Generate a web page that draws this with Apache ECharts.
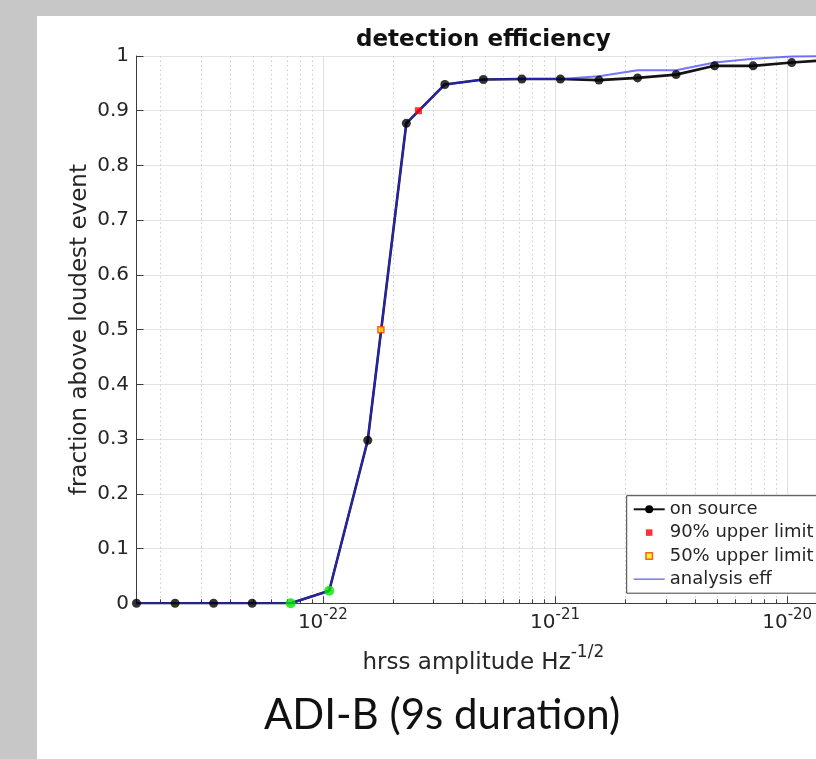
<!DOCTYPE html>
<html>
<head>
<meta charset="utf-8">
<script src="https://cdn.jsdelivr.net/npm/echarts@6/dist/echarts.min.js"></script>
<style>
html,body{margin:0;padding:0;background:#c7c7c7;}
#chart{width:816px;height:759px;}
</style>
</head>
<body>
<div id="chart"></div>
<script>
// ---- data ----
const hrss = [1.575e-23, 2.309e-23, 3.383e-23, 4.959e-23, 7.267e-23, 1.065e-22, 1.561e-22,
              2.288e-22, 3.353e-22, 4.913e-22, 7.200e-22, 1.055e-21, 1.546e-21, 2.267e-21,
              3.322e-21, 4.868e-21, 7.134e-21, 1.046e-20, 1.532e-20];
const onSource = [0, 0, 0, 0, 0, 0.023, 0.298, 0.877, 0.948, 0.957, 0.958, 0.958, 0.956,
                  0.960, 0.966, 0.982, 0.982, 0.988, 0.993];
const analysisEff = [0, 0, 0, 0, 0, 0.023, 0.298, 0.877, 0.948, 0.957, 0.958, 0.958, 0.963,
                     0.974, 0.974, 0.988, 0.995, 0.999, 1.0];
const greenIdx = [4, 5];
const upper90 = [2.58e-22, 0.9];
const upper50 = [1.778e-22, 0.5];
const decadeExps = [-22, -21, -20];
const minorMultipliers = [2, 3, 4, 5, 6, 7, 8, 9];
const minorDecades = [-23, -22, -21, -20];
const legendNames = ['on source', '90% upper limit', '50% upper limit', 'analysis eff'];
const titleText = 'detection efficiency';
const xName = 'hrss amplitude Hz';
const xNameSup = '-1/2';
const yName = 'fraction above loudest event';
const caption = 'ADI-B (9s duration)';

// ---- build ----
const lg = v => Math.log10(v);
const xMin = lg(hrss[0]);
const xMax = lg(hrss[hrss.length - 1]);
const minorTicks = [];
minorDecades.forEach(d => minorMultipliers.forEach(m => {
  const v = Math.log10(m) + d;
  if (v > xMin && v < xMax) minorTicks.push(v);
}));
const onSourceData = hrss.map((h, i) => [lg(h), onSource[i]]);
const effData = hrss.map((h, i) => [lg(h), analysisEff[i]]);
const dotData = hrss.map((h, i) => greenIdx.indexOf(i) >= 0
  ? {value: [lg(h), onSource[i]], itemStyle: {color: '#00e600'}, symbolSize: 10}
  : {value: [lg(h), onSource[i]]});

const FONT = 'DejaVu Sans';
const AX = '#3c3c3c';
const TXT = '#262626';
const sqIcon = 'path://M0,0L0,0M31,10L31,10M12.25,1.75H18.75V8.25H12.25Z';
const lineIcon = 'path://M0,0L0,0M31,10L31,10M0,4.2H31V5.8H0Z';

const chart = echarts.init(document.getElementById('chart'), null, {renderer: 'canvas'});
chart.setOption({
  animation: false,
  backgroundColor: '#c7c7c7',
  graphic: [
    {type: 'rect', z: -100, silent: true, shape: {x: 37, y: 16, width: 800, height: 760}, style: {fill: '#ffffff'}},
    {type: 'text', z: 10, silent: true, x: 442, y: 715,
     style: {text: caption, fontFamily: 'Lato', fontSize: 42, fill: '#111111', align: 'center', verticalAlign: 'middle'}}
  ],
  title: {
    text: titleText, left: 483.4, top: 29, padding: 0, textAlign: 'center', textVerticalAlign: 'top',
    textStyle: {fontFamily: FONT, fontWeight: 'bold', fontSize: 23, lineHeight: 23, color: '#111'}
  },
  grid: {left: 136.5, right: -14.2, top: 56, bottom: 155.7, containLabel: false, outerBoundsMode: 'none'},
  legend: {
    orient: 'vertical', left: 626.7, top: 495.7,
    itemWidth: 31, itemHeight: 10, itemGap: 5.3,
    padding: [4.6, 40, 5, 6],
    backgroundColor: '#ffffff', borderColor: '#404040', borderWidth: 1,
    textStyle: {fontFamily: FONT, fontSize: 18, lineHeight: 18, color: TXT},
    selectedMode: false,
    data: [
      {name: legendNames[0]},
      {name: legendNames[1], icon: sqIcon, itemStyle: {color: '#ff0000', borderWidth: 0}},
      {name: legendNames[2], icon: sqIcon, itemStyle: {color: '#ffee00', borderColor: '#ff3a00', borderWidth: 1.5}},
      {name: legendNames[3], icon: lineIcon, itemStyle: {color: '#8080f5', borderWidth: 0}}
    ]
  },
  xAxis: [
    {
      type: 'value', min: xMin, max: xMax, position: 'bottom',
      axisLine: {show: true, lineStyle: {color: AX, width: 1}},
      axisTick: {show: true, inside: true, length: 7, customValues: decadeExps, lineStyle: {color: AX}},
      axisLabel: {
        show: true, margin: 9.6, customValues: decadeExps, color: TXT,
        formatter: v => '{b|10}{s|' + v + '}',
        rich: {
          b: {fontFamily: FONT, fontSize: 20, lineHeight: 20, color: TXT},
          s: {fontFamily: FONT, fontSize: 15, lineHeight: 15, color: TXT, padding: [0, 0, 16, 0]}
        }
      },
      splitLine: {show: true, lineStyle: {color: '#dedede', width: 1}},
      name: '{n|' + xName + '}{s|' + xNameSup + '}',
      nameLocation: 'middle', nameGap: 48.5, nameMoveOverlap: false,
      nameTextStyle: {
        rich: {
          n: {fontFamily: FONT, fontSize: 23, lineHeight: 23, color: TXT},
          s: {fontFamily: FONT, fontSize: 17, lineHeight: 17, color: TXT, padding: [0, 0, 22, 0]}
        }
      }
    },
    {
      type: 'value', min: xMin, max: xMax, position: 'bottom', offset: 0,
      axisLine: {show: false},
      axisTick: {show: true, inside: true, length: 4, customValues: minorTicks, lineStyle: {color: AX}},
      axisLabel: {show: false},
      splitLine: {show: true, lineStyle: {color: '#cccccc', width: 1, type: [1.5, 3]}}
    }
  ],
  yAxis: {
    type: 'value', min: 0, max: 1, interval: 0.1,
    axisLine: {show: true, lineStyle: {color: AX, width: 1}},
    axisTick: {show: true, inside: true, length: 7, lineStyle: {color: AX}},
    axisLabel: {margin: 7.5, fontFamily: FONT, fontSize: 20, color: TXT},
    splitLine: {show: true, lineStyle: {color: '#e3e3e3', width: 1}},
    name: yName, nameLocation: 'middle', nameGap: 45, nameMoveOverlap: false,
    nameTextStyle: {fontFamily: FONT, fontSize: 23, color: TXT}
  },
  series: [
    {
      name: legendNames[0], type: 'line', xAxisIndex: 0, data: onSourceData, z: 2,
      symbol: 'circle', symbolSize: 9, showSymbol: false,
      itemStyle: {color: '#000000'},
      lineStyle: {color: '#141414', width: 2.6}
    },
    {
      name: legendNames[3], type: 'line', xAxisIndex: 0, data: effData, z: 3,
      symbol: 'none', itemStyle: {color: '#8080f5'},
      lineStyle: {color: 'rgba(45,45,255,0.66)', width: 2}
    },
    {
      name: 'points', type: 'scatter', xAxisIndex: 0, data: dotData, z: 4,
      symbol: 'circle', symbolSize: 9, itemStyle: {color: '#000000'}
    },
    {
      name: legendNames[1], type: 'scatter', xAxisIndex: 0, z: 5,
      data: [[lg(upper90[0]), upper90[1]]],
      symbol: 'rect', symbolSize: 7, itemStyle: {color: '#ff0000'}
    },
    {
      name: legendNames[2], type: 'scatter', xAxisIndex: 0, z: 5,
      data: [[lg(upper50[0]), upper50[1]]],
      symbol: 'rect', symbolSize: 6, itemStyle: {color: '#ffee00', borderColor: '#ff3a00', borderWidth: 1.5}
    }
  ]
});
</script>
</body>
</html>
